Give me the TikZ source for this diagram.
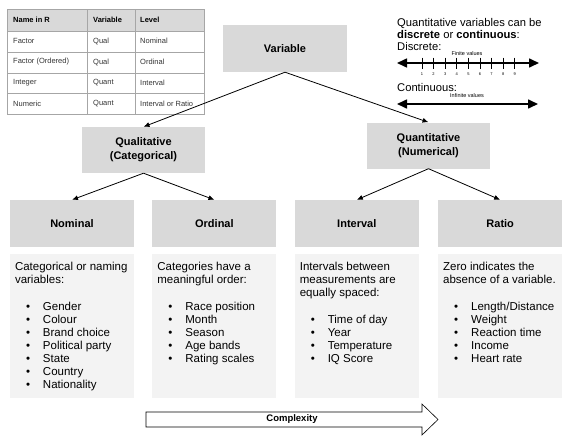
\documentclass[tikz,border=0pt]{standalone}
\usepackage{fontspec}
\setmainfont{Liberation Sans}
\usetikzlibrary{positioning,arrows.meta}

\definecolor{boxgray}{HTML}{D9D9D9}
\definecolor{descgray}{HTML}{F3F3F3}
\definecolor{tblgray}{HTML}{A6A6A6}
\definecolor{txtgray}{HTML}{333333}

\newcommand\itm[1]{\par\hspace*{11pt}\makebox[17pt][l]{\textbullet}#1}
\newcommand\desc[1]{\parbox[t][128pt][t]{114pt}{\raggedright\fontsize{11.5}{13.1}\selectfont #1}}

\tikzset{
    lvl/.style={fill=boxgray, minimum width=124pt, minimum height=47pt, inner sep=0pt,
        align=center, font=\fontsize{11}{14}\selectfont\bfseries},
    descbox/.style={fill=descgray, inner xsep=5pt, inner ysep=8pt},
    branch/.style={-{Latex[length=6pt,width=5pt]}, line width=0.8pt},
    numline/.style={{Triangle[length=10pt,width=9pt]}-{Triangle[length=10pt,width=9pt]}, line width=1.6pt},
    cell/.style={anchor=west, inner sep=0pt, text=txtgray, font=\fontsize{7.5}{9}\selectfont},
}

\begin{document}
\begin{tikzpicture}[x=1pt, y=-1pt]
                \useasboundingbox (0,0) rectangle (572,439);

                % table of R types
                \fill[boxgray] (7,9) rectangle (204,31);
                \draw[tblgray, line width=0.5pt] (7,9) rectangle (204,114);
                \foreach \yy in {31,52,73,93}
                    \draw[tblgray, line width=0.5pt] (7,\yy) -- (204,\yy);
                \foreach \xx in {87,135}
                    \draw[tblgray, line width=0.5pt] (\xx,9) -- (\xx,114);
                \node[cell, text=black, font=\fontsize{7.5}{9}\selectfont\bfseries] (h1) at (13,20) {Name in R};
                \node[cell, text=black, font=\fontsize{7.5}{9}\selectfont\bfseries] (h2) at (93,20) {Variable};
                \node[cell, text=black, font=\fontsize{7.5}{9}\selectfont\bfseries] (h3) at (140,20) {Level};
                \foreach \a/\b/\c [count=\i] in {Factor/Qual/Nominal, Factor (Ordered)/Qual/Ordinal,
                        Integer/Quant/Interval, Numeric/Quant/Interval or Ratio} {
                    \node[cell] (r\i a) at (13,20+21*\i) {\a};
                    \node[cell] (r\i b) at (93,20+21*\i) {\b};
                    \node[cell] (r\i c) at (140,20+21*\i) {\c};
                }

                % tree
                \node[lvl] (var) at (285,48.5) {Variable};
                \node[lvl, minimum width=123pt, minimum height=46pt] (qual) at (143.5,150) {Qualitative\\(Categorical)};
                \node[lvl, minimum width=123pt, minimum height=46pt] (quan) at (428.5,145.5) {Quantitative\\(Numerical)};

                \node[lvl] (nom) at (72,223.5) {Nominal};
                \node[lvl, right=18pt of nom] (ord) {Ordinal};
                \node[lvl, right=18pt of ord] (int) {Interval};
                \node[lvl, right=19pt of int] (rat) {Ratio};

                \draw[branch] (var.south) -- (qual.north);
                \draw[branch] (var.south) -- (quan.north);
                \draw[branch] (qual.south) -- (nom.north);
                \draw[branch] (qual.south) -- (ord.north);
                \draw[branch] (quan.south) -- (int.north);
                \draw[branch] (quan.south) -- (rat.north);

                \node[descbox, below=7pt of nom] (nomd) {\desc{Categorical or naming\\variables:\par\mbox{}
                    \itm{Gender}\itm{Colour}\itm{Brand choice}\itm{Political party}\itm{State}\itm{Country}\itm{Nationality}}};
                \node[descbox, below=7pt of ord] (ordd) {\desc{Categories have a\\meaningful order:\par\mbox{}
                    \itm{Race position}\itm{Month}\itm{Season}\itm{Age bands}\itm{Rating scales}}};
                \node[descbox, below=7pt of int] (intd) {\desc{Intervals between\\measurements are\\equally spaced:\par\mbox{}
                    \itm{Time of day}\itm{Year}\itm{Temperature}\itm{IQ Score}}};
                \node[descbox, below=7pt of rat] (ratd) {\desc{Zero indicates the\\absence of a variable.\par\mbox{}
                    \itm{Length/Distance}\itm{Weight}\itm{Reaction time}\itm{Income}\itm{Heart rate}}};

                % complexity arrow
                \draw[line width=0.6pt, fill=white] (146,412) -- (422,412) -- (422,404) -- (438,419.5)
                    -- (422,435) -- (422,427) -- (146,427) -- cycle;
                \node[font=\fontsize{9.5}{10}\selectfont\bfseries] (cx) at (292,419.5) {Complexity};

                % discrete / continuous
                \node[anchor=north west, align=left, inner sep=0pt, font=\fontsize{11.2}{12}\selectfont] (qtxt) at (397,18.5)
                    {Quantitative variables can be\\\textbf{discrete} or \textbf{continuous}:\\Discrete:};
                \coordinate (dl) at (397,63);
                \coordinate (dr) at (539,63);
                \draw[numline] (dl) -- (dr);
                \node[font=\fontsize{5.5}{6}\selectfont, inner sep=0pt] (fin) at (467,54) {Finite values};
                \foreach \k in {1,...,9} {
                    \draw[line width=0.9pt] (422+11.6*\k-11.6,57.5) -- (422+11.6*\k-11.6,68.5);
                    \node[font=\fontsize{4}{5}\selectfont, inner sep=0pt] (n\k) at (422+11.6*\k-11.6,74) {\k};
                }
                \node[anchor=base west, inner sep=0pt, font=\fontsize{11.2}{12}\selectfont] (ctxt) at (397,91) {Continuous:};
                \node[font=\fontsize{5.5}{6}\selectfont, inner sep=0pt] (inf) at (467,96) {Infinite values};
                \coordinate (cl) at (397,104);
                \coordinate (cr) at (538,104);
                \draw[numline] (cl) -- (cr);
\end{tikzpicture}
\end{document}
